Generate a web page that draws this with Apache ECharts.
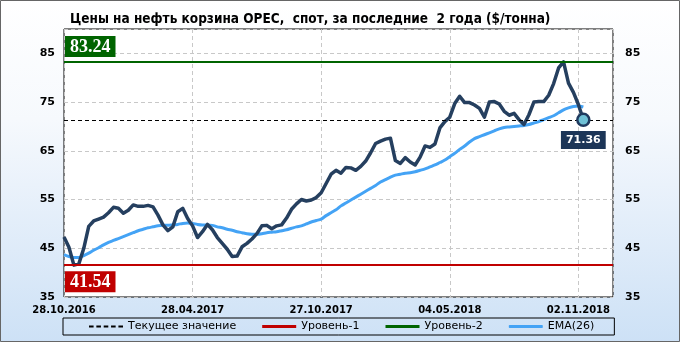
<!DOCTYPE html>
<html><head><meta charset="utf-8">
<script src="https://cdn.jsdelivr.net/npm/echarts@6/dist/echarts.min.js"></script>
<style>html,body{margin:0;padding:0;background:#fff}#c{width:680px;height:342px}</style>
</head><body><div id="c"></div><script>
const titleText = 'Цены на нефть корзина OPEC,  спот, за последние  2 года ($/тонна)';
const tickIndex = [0, 26, 52, 78, 104];
const tickLabels = ['28.10.2016', '28.04.2017', '27.10.2017', '04.05.2018', '02.11.2018'];
const price = [47.3,45.2,41.54,41.8,45.0,49.5,50.6,51.0,51.4,52.3,
53.4,53.2,52.2,52.8,53.9,53.6,53.6,53.8,53.5,51.8,
49.8,48.6,49.4,52.5,53.2,51.1,49.6,47.2,48.4,49.9,
48.8,47.2,46.0,44.8,43.3,43.4,45.3,46.0,46.9,48.0,
49.6,49.7,49.0,49.6,49.8,51.2,53.0,54.1,55.0,54.7,
54.9,55.4,56.4,58.3,60.2,61.0,60.4,61.6,61.5,61.0,
61.8,62.9,64.6,66.5,67.0,67.4,67.6,63.0,62.4,63.6,
62.7,62.1,63.7,66.0,65.7,66.4,69.7,71.0,71.9,74.7,
76.2,74.9,74.9,74.4,73.7,71.9,75.0,75.1,74.6,73.1,
72.3,72.7,71.4,70.4,72.4,75.0,75.1,75.1,76.4,78.8,
82.0,83.24,78.9,77.0,74.5,71.36];
const ema = [43.7,43.3,43.1,43.1,43.5,44.0,44.6,45.1,45.7,46.2,
46.6,47.0,47.4,47.8,48.2,48.6,48.9,49.2,49.4,49.6,
49.7,49.7,49.8,49.9,50.1,50.2,50.1,49.9,49.8,49.8,
49.7,49.4,49.2,48.9,48.7,48.4,48.2,48.0,47.9,47.9,
48.0,48.2,48.3,48.4,48.6,48.8,49.1,49.4,49.6,50.0,
50.4,50.7,51.0,51.7,52.3,52.9,53.7,54.3,54.9,55.5,
56.1,56.7,57.3,57.9,58.6,59.1,59.6,60.0,60.2,60.4,
60.5,60.7,61.0,61.3,61.7,62.1,62.6,63.1,63.8,64.5,
65.3,66.0,66.8,67.5,67.9,68.3,68.7,69.1,69.5,69.8,
69.9,70.0,70.1,70.2,70.4,70.7,71.0,71.4,71.8,72.2,
72.8,73.4,73.8,74.1,74.2,74.0];
const currentValue = 71.36;
const level1 = 41.54;
const level2 = 83.24;
const yTicks = [35, 45, 55, 65, 75, 85];

const priceData = price.map((v, i) => [i, v]);
const emaData = ema.map((v, i) => [i, v]);
const lastIdx = price.length - 1;

const chart = echarts.init(document.getElementById('c'), null, {renderer: 'canvas'});
const yLabel = (v) => yTicks.indexOf(v) >= 0 ? String(v) : '';
chart.setOption({
  animation: false,
  backgroundColor: {type: 'linear', x: 0, y: 0, x2: 0, y2: 1,
    colorStops: [{offset: 0, color: '#ffffff'}, {offset: 0.35, color: '#f6f9fd'}, {offset: 1, color: '#cde1f6'}]},
  title: {text: titleText, left: 65, top: 7,
    textStyle: {fontFamily: 'DejaVu Sans Condensed, DejaVu Sans', fontWeight: 'bold', fontSize: 13.5, color: '#000'}},
  graphic: [{type: 'rect', shape: {x: 0.5, y: 0.5, width: 679, height: 341},
    style: {fill: 'none', stroke: '#666', lineWidth: 1}, silent: true, z: 100}],
  grid: {left: 64, right: 67, top: 29, bottom: 45, show: true, backgroundColor: '#fff', borderColor: '#000', borderWidth: 1},
  legend: {left: 63, top: 318, padding: [3, 20, 3, 26], itemGap: 26, itemWidth: 34, itemHeight: 3,
    borderColor: '#000', borderWidth: 1, backgroundColor: 'rgba(255,255,255,0)',
    textStyle: {fontFamily: 'DejaVu Sans', fontSize: 11, color: '#000'},
    data: [
      {name: 'Текущее значение', icon: 'path://M0,0h5v2h-5zM8,0h5v2h-5zM16,0h5v2h-5zM24,0h5v2h-5zM32,0h5v2h-5z', itemStyle: {color: '#000'}},
      {name: 'Уровень-1', icon: 'rect', itemStyle: {color: '#c00000'}},
      {name: 'Уровень-2', icon: 'rect', itemStyle: {color: '#006400'}},
      {name: 'EMA(26)', icon: 'roundRect', itemStyle: {color: '#44a3f5'}}]},
  xAxis: {type: 'value', min: 0, max: 111, interval: 26,
    axisLine: {show: false}, axisTick: {show: false},
    splitLine: {show: true, lineStyle: {color: '#c8c8c8', type: [4, 3], width: 1}},
    axisLabel: {margin: 8, color: '#000', fontFamily: 'DejaVu Sans', fontWeight: 'bold', fontSize: 10,
      showMaxLabel: false,
      formatter: (v) => { const k = tickIndex.indexOf(v); return k >= 0 ? tickLabels[k] : ''; }}},
  yAxis: [
    {type: 'value', min: 35, max: 90, interval: 10, position: 'left',
      axisLine: {show: false}, axisTick: {show: false},
      splitLine: {show: true, lineStyle: {color: '#c8c8c8', type: [4, 3], width: 1}},
      axisLabel: {margin: 9, color: '#000', fontFamily: 'DejaVu Sans', fontWeight: 'bold', fontSize: 11, showMaxLabel: false, formatter: yLabel}},
    {type: 'value', min: 35, max: 90, interval: 10, position: 'right',
      axisLine: {show: false}, axisTick: {show: false}, splitLine: {show: false},
      axisLabel: {margin: 12, color: '#000', fontFamily: 'DejaVu Sans', fontWeight: 'bold', fontSize: 11, showMaxLabel: false, formatter: yLabel}}
  ],
  series: [
    {name: 'Текущее значение', type: 'line', data: [], symbol: 'none',
      lineStyle: {color: '#000', type: 'dashed', width: 1}, itemStyle: {color: '#000'},
      markLine: {silent: true, symbol: 'none', label: {show: false},
        lineStyle: {color: '#000', type: [4, 3], width: 1}, data: [{yAxis: currentValue}]}},
    {name: 'Уровень-1', type: 'line', data: [], symbol: 'none',
      lineStyle: {color: '#c00000', width: 2}, itemStyle: {color: '#c00000'},
      markLine: {silent: true, symbol: 'none',
        lineStyle: {color: '#c00000', type: 'solid', width: 2},
        label: {show: true, position: 'insideStartBottom', distance: [1, 6], formatter: () => level1.toFixed(2),
          backgroundColor: '#c00000', color: '#fff', fontFamily: 'Liberation Serif', fontWeight: 'bold', fontSize: 18,
          padding: [2, 5, 1, 5]},
        data: [{yAxis: level1}]}},
    {name: 'Уровень-2', type: 'line', data: [], symbol: 'none',
      lineStyle: {color: '#006400', width: 2}, itemStyle: {color: '#006400'},
      markLine: {silent: true, symbol: 'none',
        lineStyle: {color: '#006400', type: 'solid', width: 2},
        label: {show: true, position: 'insideStartTop', distance: [1, 5], formatter: () => level2.toFixed(2),
          backgroundColor: '#006400', color: '#fff', fontFamily: 'Liberation Serif', fontWeight: 'bold', fontSize: 18,
          padding: [2, 5, 1, 5]},
        data: [{yAxis: level2}]}},
    {name: 'EMA(26)', type: 'line', data: emaData, symbol: 'none', smooth: 0.3,
      lineStyle: {color: '#44a3f5', width: 3}, itemStyle: {color: '#44a3f5'}},
    {name: 'price', type: 'line', data: priceData, symbol: 'none',
      lineStyle: {color: '#253f5f', width: 3.5, join: 'round'}, itemStyle: {color: '#253f5f'}},
    {name: 'last', type: 'scatter', data: [[lastIdx, price[lastIdx]]], symbolSize: 12, z: 5,
      itemStyle: {color: '#6fc1d6', borderColor: '#1f3a5f', borderWidth: 2.5, opacity: 1},
      label: {show: true, position: 'bottom', distance: 4, formatter: () => currentValue.toFixed(2),
        backgroundColor: '#1c3557', color: '#fff', fontFamily: 'DejaVu Sans', fontWeight: 'bold', fontSize: 11,
        padding: [4, 5, 3, 5]}}
  ]
});
</script></body></html>
